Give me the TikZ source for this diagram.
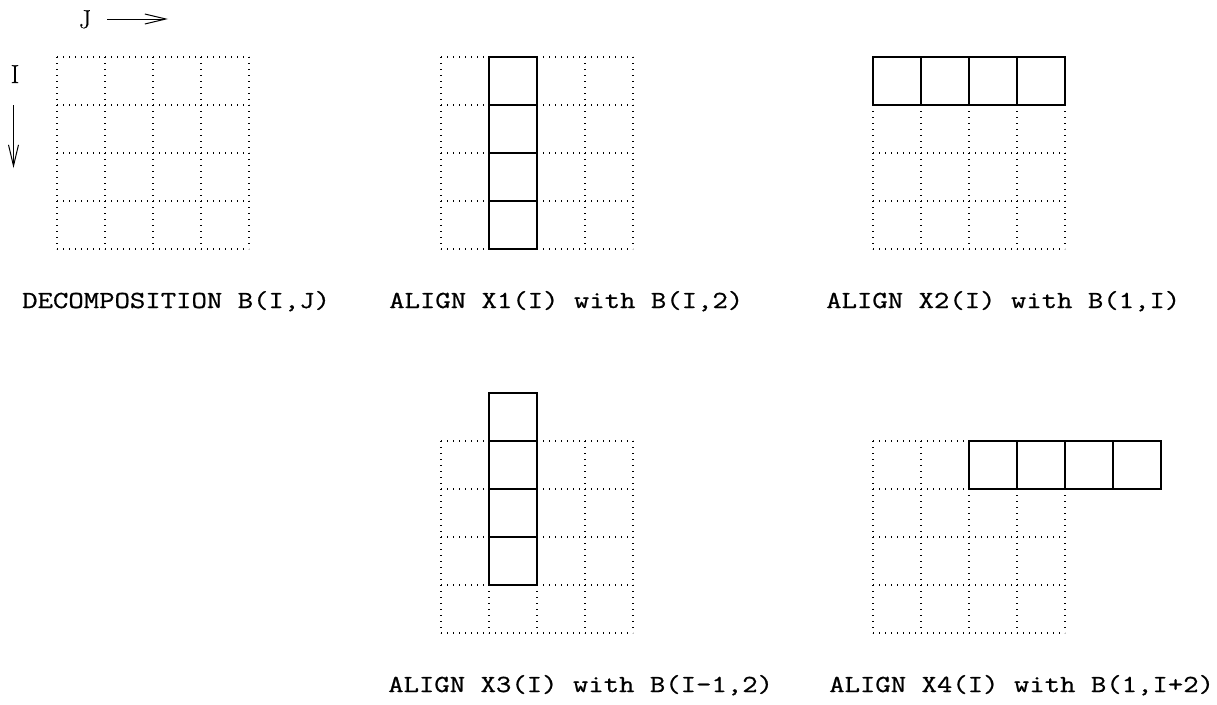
\documentclass[tikz,border=0pt]{standalone}
\usepackage{fontspec}
\usetikzlibrary{arrows.meta}
\newfontfamily\labelfont{Latin Modern Mono}[FakeBold=0.7]
\newfontfamily\axisfont{Latin Modern Roman}[FakeBold=0.5]
\tikzset{
  dotline/.style={line width=1.3pt, dash pattern=on 1.3pt off 4.7pt, black},
  solidline/.style={line width=1.2pt, black},
  lbl/.style={anchor=base west, inner sep=0pt, font=\fontsize{24.5}{28}\labelfont},
  axis/.style={font=\fontsize{26}{30}\axisfont, inner sep=0pt, anchor=base},
  axarrow/.style={line width=1pt, -{Straight Barb[length=21pt,width=10pt]}}
}
\newcommand{\dotgridat}[2]{%
  \foreach \k in {0,...,4}{
    \draw[dotline] (#1+48*\k,#2) -- (#1+48*\k,#2+192);
    \draw[dotline] (#1,#2+48*\k) -- (#1+192,#2+48*\k);
  }%
}
\newcommand{\solidcol}[2]{% x0,y0 : column of 4 cells
  \draw[solidline] (#1,#2) rectangle (#1+48,#2+192);
  \foreach \k in {1,2,3}{\draw[solidline] (#1,#2+48*\k) -- (#1+48,#2+48*\k);}%
}
\newcommand{\solidrow}[2]{% x0,y0 : row of 4 cells
  \draw[solidline] (#1,#2) rectangle (#1+192,#2+48);
  \foreach \k in {1,2,3}{\draw[solidline] (#1+48*\k,#2) -- (#1+48*\k,#2+48);}%
}
\begin{document}
\begin{tikzpicture}[x=1pt,y=-1pt]
\useasboundingbox (0,0) rectangle (1217,704);
% axes
\node[axis] (J) at (85,28) {J};
\node[axis] (I) at (15,83) {I};
\coordinate (jS) at (107,19);
\coordinate (jE) at (168,19);
\coordinate (iS) at (13.5,105);
\coordinate (iE) at (13.5,168);
\draw[axarrow] (jS) -- (jE);
\draw[axarrow] (iS) -- (iE);
% grid 1
\dotgridat{57}{57}
% grid 2
\dotgridat{441}{57}
\solidcol{489}{57}
% grid 3
\dotgridat{873}{57}
\solidrow{873}{57}
% grid 4
\dotgridat{441}{441}
\solidcol{489}{393}
% grid 5
\dotgridat{873}{441}
\solidrow{969}{441}
% labels
\node[lbl] (l1) at (22,308) {\scalebox{1.22}[1]{DECOMPOSITION B(I,J)}};
\node[lbl] (l2) at (389,308) {\scalebox{1.22}[1]{ALIGN X1(I) with B(I,2)}};
\node[lbl] (l3) at (826,308) {\scalebox{1.22}[1]{ALIGN X2(I) with B(1,I)}};
\node[lbl] (l4) at (388,692) {\scalebox{1.22}[1]{ALIGN X3(I) with B(I-1,2)}};
\node[lbl] (l5) at (829,692) {\scalebox{1.22}[1]{ALIGN X4(I) with B(1,I+2)}};
\end{tikzpicture}
\end{document}
